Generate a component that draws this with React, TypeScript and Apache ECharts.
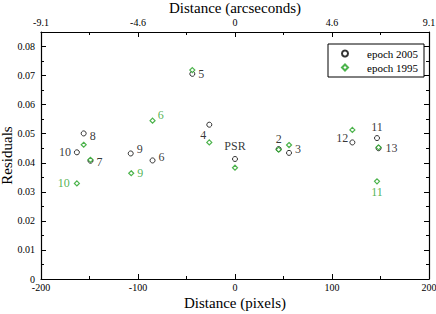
import React, { useEffect, useRef } from "react";
import * as echarts from "echarts";

// Point names
const names2005 = ["10", "8", "7", "9", "6", "5", "4", "PSR", "2", "3", "12", "11", "13"];
const x2005 = [-163, -156, -149, -107.5, -85, -44, -26.5, 0, 45, 55.7, 121, 146.4, 148];
const y2005 = [0.0436, 0.0501, 0.0407, 0.0432, 0.0408, 0.0706, 0.0531, 0.0413, 0.0447, 0.0434, 0.0470, 0.0485, 0.0450];

const names1995 = ["10", "8", "7", "9", "6", "5", "4", "PSR", "2", "3", "12", "11", "13"];
const x1995 = [-163, -156, -149, -107, -85, -44, -26.5, 0, 45, 55.7, 121, 146.4, 148];
const y1995 = [0.0329, 0.0462, 0.0410, 0.0364, 0.0545, 0.0719, 0.0470, 0.0383, 0.0445, 0.0461, 0.0513, 0.0336, 0.0453];

// which points carry a visible label
const labelled2005 = ["10", "8", "7", "9", "6", "5", "4", "PSR", "2", "3", "12", "11", "13"];
const labelled1995 = ["10", "9", "6", "11"];

const bottomTicks = [-200, -100, 0, 100, 200];
const topTickLabels = ["-9.1", "-4.6", "0", "4.6", "9.1"];

const GREEN = "#1fa01f";
const FONT = "Liberation Serif";

// label placement (style)
const place2005: Record<string, any> = {
  "10": { position: "left", distance: 3, offset: [0, 0] },
  "8": { position: "right", distance: 3, offset: [0, 3] },
  "7": { position: "right", distance: 3, offset: [0, 1] },
  "9": { position: "right", distance: 3, offset: [0, -4] },
  "6": { position: "right", distance: 3, offset: [0, -3] },
  "5": { position: "right", distance: 3, offset: [0, 0] },
  "4": { position: "bottom", distance: 2, offset: [-6, -1] },
  PSR: { position: "top", distance: 4, offset: [0, 0] },
  "2": { position: "top", distance: 1, offset: [0, 0] },
  "3": { position: "right", distance: 3, offset: [0, -4] },
  "12": { position: "left", distance: 1, offset: [0, -4] },
  "11": { position: "top", distance: 2, offset: [0, 0] },
  "13": { position: "right", distance: 4, offset: [0, 0] },
};
const place1995: Record<string, any> = {
  "10": { position: "left", distance: 4, offset: [0, 0] },
  "9": { position: "right", distance: 3, offset: [0, 0] },
  "6": { position: "right", distance: 2, offset: [0, -6] },
  "11": { position: "bottom", distance: 2, offset: [0, 0] },
};

export default function App() {
  const ref = useRef<HTMLDivElement>(null);
  useEffect(() => {
    const chart = echarts.init(ref.current!, null, { renderer: "svg" });

    const mkLabel = (n: string, p: any, color: string) =>
      p
        ? { show: true, formatter: n, color, fontFamily: FONT, fontSize: 12, fontWeight: "normal", ...p }
        : { show: false };

    const data2005 = names2005.map((n, i) => ({
      name: n,
      value: [x2005[i], y2005[i]],
      label: mkLabel(n, labelled2005.includes(n) ? place2005[n] : null, "#000"),
    }));
    const data1995 = names1995.map((n, i) => ({
      name: n,
      value: [x1995[i], y1995[i]],
      label: mkLabel(n, labelled1995.includes(n) ? place1995[n] : null, GREEN),
    }));

    const tickStyle = {
      axisLine: { show: true, onZero: false, lineStyle: { color: "#000", width: 1.2 } },
      axisTick: { show: true, inside: true, length: 5, lineStyle: { color: "#000" } },
      minorTick: { show: true, splitNumber: 2, length: 3, lineStyle: { color: "#000" } },
      splitLine: { show: false },
    };
    const nameStyle = { fontFamily: FONT, fontSize: 15, color: "#000", fontWeight: "normal" };
    const labelStyle = { fontFamily: FONT, fontSize: 10, color: "#000", fontWeight: "normal" };

    chart.setOption({
      animation: false,
      backgroundColor: "#fff",
      grid: { left: 41, right: 7, top: 32, bottom: 35, containLabel: false, outerBoundsMode: "none" },
      legend: {
        left: 328,
        top: 44,
        orient: "vertical",
        itemWidth: 6,
        itemHeight: 6,
        itemGap: 3,
        padding: [4, 6, 4, 13],
        borderColor: "#000",
        borderWidth: 1,
        borderRadius: 0,
        backgroundColor: "#fff",
        textStyle: { fontFamily: FONT, fontSize: 11, color: "#000", padding: [0, 0, 0, 14] },
        data: ["epoch 2005", "epoch 1995"],
      },
      xAxis: [
        {
          type: "value",
          position: "bottom",
          min: -200,
          max: 200,
          interval: 100,
          name: "Distance (pixels)",
          nameLocation: "middle",
          nameGap: 16,
          nameMoveOverlap: false,
          nameTextStyle: nameStyle,
          axisLabel: { ...labelStyle, margin: 3 },
          ...tickStyle,
        },
        {
          type: "value",
          position: "top",
          min: -200,
          max: 200,
          interval: 100,
          name: "Distance (arcseconds)",
          nameLocation: "middle",
          nameGap: 17,
          nameMoveOverlap: false,
          nameTextStyle: nameStyle,
          axisLabel: {
            ...labelStyle,
            margin: 5,
            formatter: (v: number) => topTickLabels[bottomTicks.indexOf(v)] ?? "",
          },
          ...tickStyle,
        },
      ],
      yAxis: [
        {
          type: "value",
          position: "left",
          min: 0,
          max: 0.085,
          interval: 0.01,
          name: "Residuals",
          nameLocation: "middle",
          nameGap: 27,
          nameMoveOverlap: false,
          nameTextStyle: nameStyle,
          axisLabel: {
            ...labelStyle,
            margin: 6,
            showMaxLabel: false,
            formatter: (v: number) => (v === 0 ? "0" : v.toFixed(2)),
          },
          ...tickStyle,
        },
        {
          type: "value",
          position: "right",
          min: 0,
          max: 0.085,
          interval: 0.01,
          axisLabel: { show: false },
          ...tickStyle,
        },
      ],
      series: [
        {
          name: "epoch 2005",
          type: "scatter",
          symbol: "circle",
          symbolSize: 5,
          itemStyle: { color: "#fff", borderColor: "#000", borderWidth: 1 },
          data: data2005,
          z: 2,
        },
        {
          name: "epoch 1995",
          type: "scatter",
          symbol: "diamond",
          symbolSize: 5,
          itemStyle: { color: "#fff", borderColor: GREEN, borderWidth: 1.2 },
          data: data1995,
          z: 3,
        },
      ],
    });
    return () => chart.dispose();
  }, []);
  return <div ref={ref} style={{ width: 436, height: 314, position: "absolute", left: 0, top: 0 }} />;
}
